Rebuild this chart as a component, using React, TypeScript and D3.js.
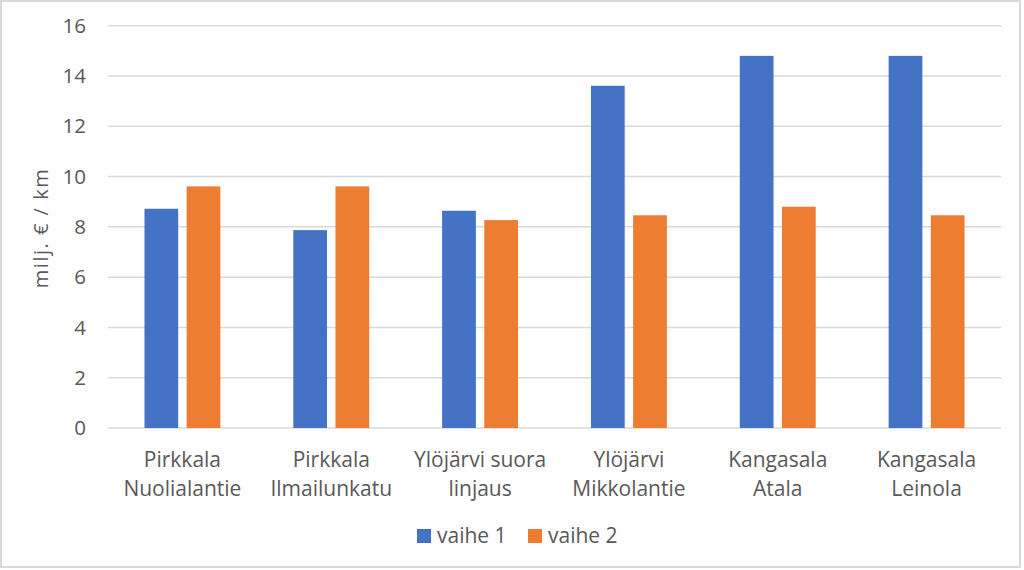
import React from "react";
import * as d3 from "d3";

const categories: string[][] = [
  ["Pirkkala", "Nuolialantie"],
  ["Pirkkala", "Ilmailunkatu"],
  ["Ylöjärvi suora", "linjaus"],
  ["Ylöjärvi", "Mikkolantie"],
  ["Kangasala", "Atala"],
  ["Kangasala", "Leinola"],
];
const seriesNames = ["vaihe 1", "vaihe 2"];
const vaihe1 = [8.72, 7.87, 8.64, 13.61, 14.8, 14.8];
const vaihe2 = [9.61, 9.61, 8.27, 8.46, 8.8, 8.46];
const yTicks = [0, 2, 4, 6, 8, 10, 12, 14, 16];
const colors = ["#4472C4", "#ED7D31"];

const W = 1024;
const H = 570;
const FONT = "'Open Sans', 'Noto Sans', sans-serif";

export default function App() {
  const left = 108;
  const right = 1001;
  const top = 25.7;
  const bottom = 428;

  const x0 = d3
    .scaleBand<number>()
    .domain(categories.map((_, i) => i))
    .range([left, right])
    .paddingInner(0.49)
    .paddingOuter(0.245);
  const x1 = d3
    .scaleBand<number>()
    .domain([0, 1])
    .range([0, x0.bandwidth()])
    .paddingInner(0.2);
  const y = d3.scaleLinear().domain([0, 16]).range([bottom, top]);
  const series = [vaihe1, vaihe2];

  return (
    <div style={{ position: "absolute", left: 0, top: 0 }}>
      <svg width={W} height={H} style={{ display: "block", fontFamily: FONT }}>
        <rect x={0} y={0} width={W} height={H} fill="#fff" />
        <rect x={1} y={1} width={1019} height={566} fill="#fff" stroke="#d9d9d9" strokeWidth={2} />
        {yTicks.map((t) => (
          <g key={t}>
            <line x1={left} x2={right} y1={y(t)} y2={y(t)} stroke="#d9d9d9" strokeWidth={1.5} />
            <text
              x={86}
              y={y(t)}
              dy="0.35em"
              textAnchor="end"
              fontSize={20.5}
              fill="#595959"
            >
              {t}
            </text>
          </g>
        ))}
        {categories.map((c, i) =>
          series.map((s, j) => (
            <rect
              key={`${i}-${j}`}
              x={(x0(i) as number) + (x1(j) as number)}
              y={y(s[i])}
              width={x1.bandwidth()}
              height={bottom - y(s[i])}
              fill={colors[j]}
            />
          ))
        )}
        {categories.map((c, i) => {
          const cx = (x0(i) as number) + x0.bandwidth() / 2;
          return (
            <text key={i} textAnchor="middle" fontSize={21} fill="#595959">
              {c.map((line, k) => (
                <tspan key={k} x={cx} y={467 + k * 29}>
                  {line}
                </tspan>
              ))}
            </text>
          );
        })}
        <text
          transform={`translate(48,228) rotate(-90)`}
          textAnchor="middle"
          fontSize={20}
          letterSpacing={1.5}
          fill="#595959"
        >
          milj. € / km
        </text>
        {seriesNames.map((n, j) => {
          const lx = 417 + j * 111;
          return (
            <g key={n}>
              <rect x={lx} y={529} width={14} height={14} fill={colors[j]} />
              <text x={lx + 20} y={543} fontSize={21} fill="#595959">
                {n}
              </text>
            </g>
          );
        })}
      </svg>
    </div>
  );
}
